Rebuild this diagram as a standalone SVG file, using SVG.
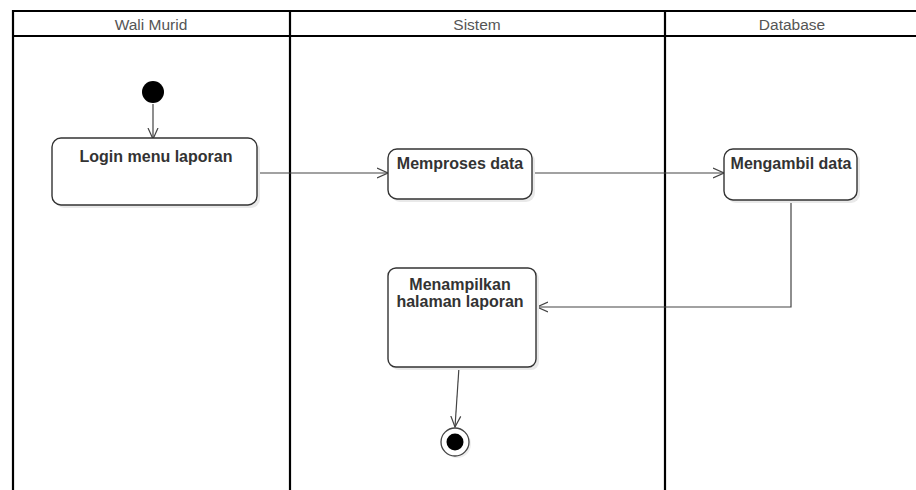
<svg xmlns="http://www.w3.org/2000/svg" width="916" height="490" viewBox="0 0 916 490">
  <style>
    .lane { fill: none; stroke: #000; stroke-width: 2.2; }
    .head { font-family: "Liberation Sans", Arial, sans-serif; font-size: 15.5px; fill: #555; text-anchor: middle; }
    .box { fill: #fff; stroke: #333; stroke-width: 1.4; }
    .shadow { fill: #e9e9e9; }
    .label { font-family: "Liberation Sans", Arial, sans-serif; font-size: 16px; font-weight: bold; fill: #333; text-anchor: middle; }
    .flow { fill: none; stroke: #444; stroke-width: 1.2; marker-end: url(#open); }
  </style>
  <defs>
    <marker id="open" viewBox="0 0 12 12" refX="11" refY="6" markerWidth="12" markerHeight="12" markerUnits="userSpaceOnUse" orient="auto">
      <path d="M0,1 L11,6 L0,11" fill="none" stroke="#444" stroke-width="1.2"/>
    </marker>
  </defs>
  <rect width="916" height="490" fill="#fff"/>

  <!-- swimlanes -->
  <g id="swimlanes">
    <path class="lane" d="M13,490 V11 H916 M13,36 H916 M290,11 V490 M665,11 V490"/>
    <text class="head" x="151" y="30">Wali Murid</text>
    <text class="head" x="477" y="30">Sistem</text>
    <text class="head" x="792" y="30">Database</text>
  </g>

  <!-- connectors -->
  <g id="connectors">
    <path class="flow" d="M153,104 V139"/>
    <path class="flow" d="M257,173 H388"/>
    <path class="flow" d="M532,173 H724"/>
    <path class="flow" d="M791,200 V307 H537"/>
    <path class="flow" d="M459,367 L455,427"/>
  </g>

  <g id="start">
    <circle cx="153" cy="92" r="11" fill="#000"/>
  </g>

  <g id="login">
    <rect class="shadow" x="55" y="141" width="205" height="67" rx="9"/>
    <rect class="box" x="52" y="138" width="205" height="67" rx="9"/>
    <text class="label" x="156" y="162">Login menu laporan</text>
  </g>

  <g id="memproses">
    <rect class="shadow" x="391" y="152" width="144" height="50" rx="9"/>
    <rect class="box" x="388" y="149" width="144" height="50" rx="9"/>
    <text class="label" x="460" y="169">Memproses data</text>
  </g>

  <g id="mengambil">
    <rect class="shadow" x="727" y="152" width="133" height="51" rx="9"/>
    <rect class="box" x="724" y="149" width="133" height="51" rx="9"/>
    <text class="label" x="791" y="169">Mengambil data</text>
  </g>

  <g id="menampilkan">
    <rect class="shadow" x="391" y="271" width="148" height="99" rx="8"/>
    <rect class="box" x="388" y="268" width="148" height="99" rx="8"/>
    <text class="label" x="460" y="290">Menampilkan</text>
    <text class="label" x="460" y="307">halaman laporan</text>
  </g>

  <g id="end">
    <circle cx="457" cy="444" r="14" fill="#eee"/>
    <circle cx="455" cy="442" r="14" fill="#fff" stroke="#444" stroke-width="1.3"/>
    <circle cx="455" cy="442" r="8.5" fill="#000"/>
  </g>
</svg>
